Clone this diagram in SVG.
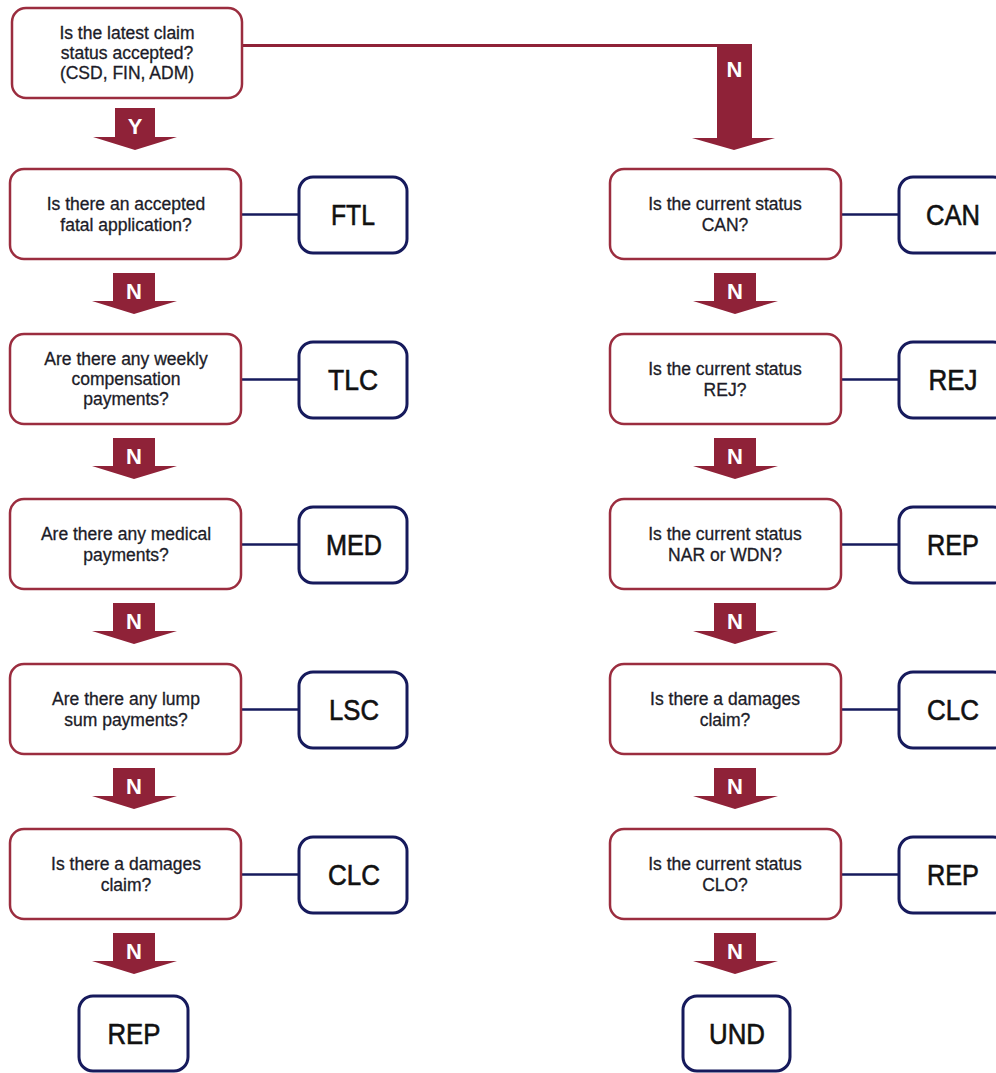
<svg xmlns="http://www.w3.org/2000/svg" width="996" height="1073" viewBox="0 0 996 1073">
<style>
.q{fill:#fff;stroke:#9b2d3f;stroke-width:2.5}
.r{fill:#fff;stroke:#161a5c;stroke-width:3}
.t{font-family:"Liberation Sans",Arial,sans-serif;font-size:17.5px;fill:#1c1c28;stroke:#1c1c28;stroke-width:0.3;text-anchor:middle}
.n{font-family:"Liberation Sans",Arial,sans-serif;font-size:29px;fill:#111;stroke:#111;stroke-width:0.6;text-anchor:middle}
.a{fill:#8f2238}
.l{font-family:"Liberation Sans",Arial,sans-serif;font-size:22px;font-weight:bold;fill:#fff;text-anchor:middle}
.c{stroke:#161a5c;stroke-width:2.5;fill:none}
.h{stroke:#8f2238;stroke-width:3;fill:none}
</style>
<g id="connectors">
<line class="h" x1="242" y1="45.5" x2="720" y2="45.5"/>
<line class="c" x1="242" y1="214.5" x2="298" y2="214.5"/>
<line class="c" x1="242" y1="379.5" x2="298" y2="379.5"/>
<line class="c" x1="242" y1="544.5" x2="298" y2="544.5"/>
<line class="c" x1="242" y1="709.5" x2="298" y2="709.5"/>
<line class="c" x1="242" y1="874.5" x2="298" y2="874.5"/>
<line class="c" x1="841" y1="214.5" x2="898" y2="214.5"/>
<line class="c" x1="841" y1="379.5" x2="898" y2="379.5"/>
<line class="c" x1="841" y1="544.5" x2="898" y2="544.5"/>
<line class="c" x1="841" y1="709.5" x2="898" y2="709.5"/>
<line class="c" x1="841" y1="874.5" x2="898" y2="874.5"/>
<g id="arrowY"><polygon class="a" points="115,108 155,108 155,137 177,137 135,150 93,137 115,137"/><text class="l" x="135" y="134">Y</text></g>
<g id="arrowNbig"><polygon class="a" points="717,44 752,44 752,138 775,138 734,150 692,138 717,138"/><text class="l" x="734.5" y="77">N</text></g>
<g id="arrowsLeft">
<polygon class="a" points="113,273 155,273 155,301 177,301 134,314 92,301 113,301"/><text class="l" x="134" y="299">N</text>
<polygon class="a" points="113,438 155,438 155,466 177,466 134,479 92,466 113,466"/><text class="l" x="134" y="464">N</text>
<polygon class="a" points="113,603 155,603 155,631 177,631 134,644 92,631 113,631"/><text class="l" x="134" y="629">N</text>
<polygon class="a" points="113,768 155,768 155,796 177,796 134,809 92,796 113,796"/><text class="l" x="134" y="794">N</text>
<polygon class="a" points="113,933 155,933 155,961 177,961 134,974 92,961 113,961"/><text class="l" x="134" y="959">N</text>
</g>
<g id="arrowsRight">
<polygon class="a" points="714,273 756,273 756,301 778,301 735,314 693,301 714,301"/><text class="l" x="735" y="299">N</text>
<polygon class="a" points="714,438 756,438 756,466 778,466 735,479 693,466 714,466"/><text class="l" x="735" y="464">N</text>
<polygon class="a" points="714,603 756,603 756,631 778,631 735,644 693,631 714,631"/><text class="l" x="735" y="629">N</text>
<polygon class="a" points="714,768 756,768 756,796 778,796 735,809 693,796 714,796"/><text class="l" x="735" y="794">N</text>
<polygon class="a" points="714,933 756,933 756,961 778,961 735,974 693,961 714,961"/><text class="l" x="735" y="959">N</text>
</g>
</g>
<g id="q0"><rect class="q" x="12" y="8" width="230" height="90" rx="14"/><text class="t" x="127" y="39">Is the latest claim</text><text class="t" x="127" y="59">status accepted?</text><text class="t" x="127" y="79">(CSD, FIN, ADM)</text></g>
<g id="qL1"><rect class="q" x="10" y="169" width="231" height="90" rx="14"/><text class="t" x="126" y="210">Is there an accepted</text><text class="t" x="126" y="231">fatal application?</text></g>
<g id="qL2"><rect class="q" x="10" y="334" width="231" height="90" rx="14"/><text class="t" x="126" y="365">Are there any weekly</text><text class="t" x="126" y="385">compensation</text><text class="t" x="126" y="405">payments?</text></g>
<g id="qL3"><rect class="q" x="10" y="499" width="231" height="90" rx="14"/><text class="t" x="126" y="540">Are there any medical</text><text class="t" x="126" y="561">payments?</text></g>
<g id="qL4"><rect class="q" x="10" y="664" width="231" height="90" rx="14"/><text class="t" x="126" y="705">Are there any lump</text><text class="t" x="126" y="726">sum payments?</text></g>
<g id="qL5"><rect class="q" x="10" y="829" width="231" height="90" rx="14"/><text class="t" x="126" y="870">Is there a damages</text><text class="t" x="126" y="891">claim?</text></g>
<g id="qR1"><rect class="q" x="610" y="169" width="231" height="90" rx="14"/><text class="t" x="725" y="210">Is the current status</text><text class="t" x="725" y="231">CAN?</text></g>
<g id="qR2"><rect class="q" x="610" y="334" width="231" height="90" rx="14"/><text class="t" x="725" y="375">Is the current status</text><text class="t" x="725" y="396">REJ?</text></g>
<g id="qR3"><rect class="q" x="610" y="499" width="231" height="90" rx="14"/><text class="t" x="725" y="540">Is the current status</text><text class="t" x="725" y="561">NAR or WDN?</text></g>
<g id="qR4"><rect class="q" x="610" y="664" width="231" height="90" rx="14"/><text class="t" x="725" y="705">Is there a damages</text><text class="t" x="725" y="726">claim?</text></g>
<g id="qR5"><rect class="q" x="610" y="829" width="231" height="90" rx="14"/><text class="t" x="725" y="870">Is the current status</text><text class="t" x="725" y="891">CLO?</text></g>
<g id="FTL"><rect class="r" x="299" y="177" width="108" height="76" rx="14"/><text class="n" x="353" y="225" textLength="44" lengthAdjust="spacingAndGlyphs">FTL</text></g>
<g id="TLC"><rect class="r" x="299" y="342" width="108" height="76" rx="14"/><text class="n" x="353" y="390" textLength="50" lengthAdjust="spacingAndGlyphs">TLC</text></g>
<g id="MED"><rect class="r" x="299" y="507" width="108" height="76" rx="14"/><text class="n" x="354" y="555" textLength="56" lengthAdjust="spacingAndGlyphs">MED</text></g>
<g id="LSC"><rect class="r" x="299" y="672" width="108" height="76" rx="14"/><text class="n" x="354" y="720" textLength="50" lengthAdjust="spacingAndGlyphs">LSC</text></g>
<g id="CLC1"><rect class="r" x="299" y="837" width="108" height="76" rx="14"/><text class="n" x="354" y="885" textLength="52" lengthAdjust="spacingAndGlyphs">CLC</text></g>
<g id="CAN"><rect class="r" x="899" y="177" width="108" height="76" rx="14"/><text class="n" x="953" y="225" textLength="54" lengthAdjust="spacingAndGlyphs">CAN</text></g>
<g id="REJ"><rect class="r" x="899" y="342" width="108" height="76" rx="14"/><text class="n" x="953" y="390" textLength="49" lengthAdjust="spacingAndGlyphs">REJ</text></g>
<g id="REP1"><rect class="r" x="899" y="507" width="108" height="76" rx="14"/><text class="n" x="953" y="555" textLength="52" lengthAdjust="spacingAndGlyphs">REP</text></g>
<g id="CLC2"><rect class="r" x="899" y="672" width="108" height="76" rx="14"/><text class="n" x="953" y="720" textLength="52" lengthAdjust="spacingAndGlyphs">CLC</text></g>
<g id="REP2"><rect class="r" x="899" y="837" width="108" height="76" rx="14"/><text class="n" x="953" y="885" textLength="52" lengthAdjust="spacingAndGlyphs">REP</text></g>
<g id="REP3"><rect class="r" x="79" y="996" width="109" height="75" rx="14"/><text class="n" x="134" y="1044" textLength="53" lengthAdjust="spacingAndGlyphs">REP</text></g>
<g id="UND"><rect class="r" x="683" y="996" width="107" height="75" rx="14"/><text class="n" x="737" y="1044" textLength="56" lengthAdjust="spacingAndGlyphs">UND</text></g>
</svg>
